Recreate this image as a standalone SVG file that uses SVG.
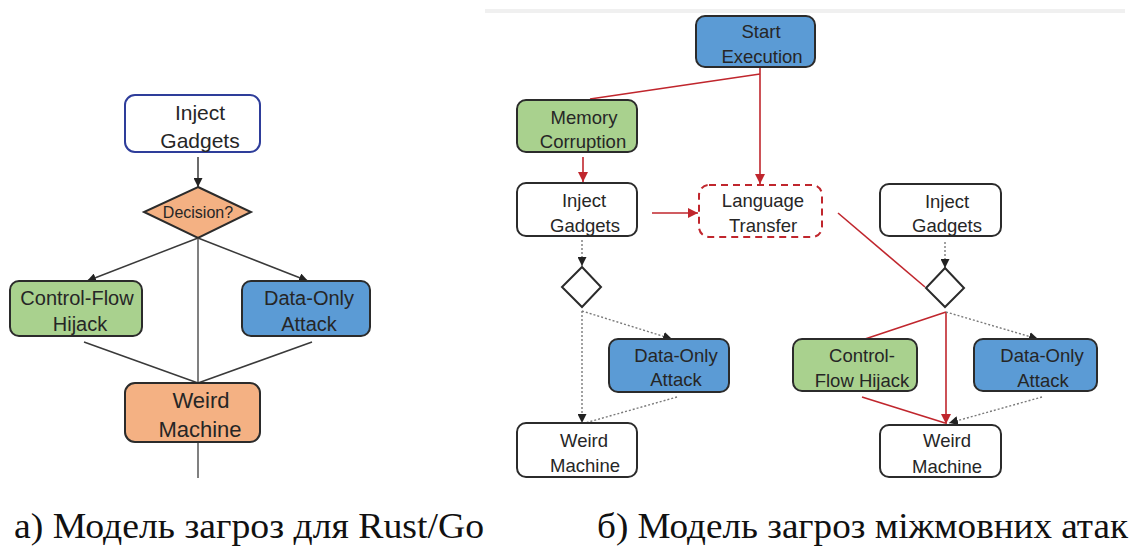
<svg xmlns="http://www.w3.org/2000/svg" width="1135" height="548" viewBox="0 0 1135 548">
  <style>
    .node rect, .node polygon { stroke: #2b2b2b; stroke-width: 2; }
    .lbl { font-family: "Liberation Sans", Arial, sans-serif; fill: #262626; text-anchor: middle; }
    .l1 { font-size: 21px; }
    .l2 { font-size: 18.5px; }
    .cap { font-family: "Liberation Serif", "Times New Roman", serif; font-size: 35px; fill: #111; }
    .green { fill: #a9d18e; }
    .blue { fill: #5b9bd5; }
    .orange { fill: #f4b183; }
    .white { fill: #ffffff; }
    .solid { stroke: #3a3a3a; stroke-width: 1.5; fill: none; }
    .grey { stroke: #808080; stroke-width: 2; fill: none; }
    .red { stroke: #c0262d; stroke-width: 1.6; fill: none; }
    .dot { stroke: #7a7a7a; stroke-width: 1.4; stroke-dasharray: 2 2; fill: none; }
  </style>
  <defs>
    <marker id="arrK" viewBox="0 0 10 10" refX="10" refY="5" markerWidth="9" markerHeight="9" markerUnits="userSpaceOnUse" orient="auto">
      <path d="M0,0 L10,5 L0,10 z" fill="#222"/>
    </marker>
    <marker id="arrR" viewBox="0 0 10 10" refX="10" refY="5" markerWidth="10" markerHeight="10" markerUnits="userSpaceOnUse" orient="auto">
      <path d="M0,0 L10,5 L0,10 z" fill="#c0262d"/>
    </marker>
  </defs>

  <rect width="1135" height="548" fill="#ffffff"/>
  <!-- faint band above the right-hand flow -->
  <rect x="485" y="9" width="640" height="4" fill="#f0f0f0"/>

  <!-- connectors -->
  <g id="connectors">
    <!-- left: Rust/Go model -->
    <line class="solid" x1="198" y1="157" x2="198" y2="187" marker-end="url(#arrK)"/>
    <line class="solid" x1="198" y1="238" x2="87" y2="281" marker-end="url(#arrK)"/>
    <line class="solid" x1="198" y1="238" x2="308" y2="281" marker-end="url(#arrK)"/>
    <line class="grey" x1="198" y1="238" x2="198" y2="383"/>
    <line class="solid" x1="84" y1="342" x2="198" y2="383"/>
    <line class="solid" x1="312" y1="342" x2="198" y2="383"/>
    <line class="grey" x1="198" y1="442" x2="198" y2="478"/>

    <!-- right: cross-language model -->
    <line class="red" x1="760" y1="74" x2="590" y2="99"/>
    <line class="red" x1="760" y1="67" x2="760" y2="184" marker-end="url(#arrR)"/>
    <line class="red" x1="583" y1="157" x2="583" y2="182" marker-end="url(#arrR)"/>
    <line class="red" x1="652" y1="213" x2="698" y2="213" marker-end="url(#arrR)"/>
    <line class="red" x1="838" y1="213" x2="925" y2="287"/>

    <line class="dot" x1="582" y1="240" x2="582" y2="266" marker-end="url(#arrK)"/>
    <line class="dot" x1="582" y1="311" x2="672" y2="339" marker-end="url(#arrK)"/>
    <line class="dot" x1="582" y1="311" x2="582" y2="423" marker-end="url(#arrK)"/>
    <line class="dot" x1="677" y1="397" x2="585" y2="423"/>

    <line class="dot" x1="945" y1="242" x2="945" y2="268" marker-end="url(#arrK)"/>
    <line class="red" x1="946" y1="312" x2="865" y2="339"/>
    <line class="red" x1="946" y1="312" x2="946" y2="424" marker-end="url(#arrR)"/>
    <line class="dot" x1="946" y1="312" x2="1038" y2="339" marker-end="url(#arrK)"/>
    <line class="red" x1="862" y1="397" x2="945" y2="423"/>
    <line class="dot" x1="1042" y1="397" x2="949" y2="423" marker-end="url(#arrK)"/>
  </g>

  <!-- left flow -->
  <g id="a-inject" class="node">
    <rect x="125" y="95" width="135" height="57" rx="10" fill="#ffffff" style="stroke:#2e3d9a"/>
    <text class="lbl l1" x="200" y="120">Inject</text>
    <text class="lbl l1" x="200" y="148">Gadgets</text>
  </g>
  <g id="a-decision" class="node">
    <polygon class="orange" points="198,187 251,212 198,238 144,212"/>
    <text class="lbl" x="198" y="218" style="font-size:16px">Decision?</text>
  </g>
  <g id="a-cfh" class="node">
    <rect class="green" x="10" y="281" width="132" height="55" rx="9"/>
    <text class="lbl" x="77" y="305" style="font-size:20px">Control-Flow</text>
    <text class="lbl" x="80" y="331" style="font-size:20px">Hijack</text>
  </g>
  <g id="a-doa" class="node">
    <rect class="blue" x="242" y="281" width="128" height="55" rx="9"/>
    <text class="lbl" x="309" y="305" style="font-size:20px">Data-Only</text>
    <text class="lbl" x="309" y="331" style="font-size:20px">Attack</text>
  </g>
  <g id="a-weird" class="node">
    <rect class="orange" x="125" y="383" width="135" height="59" rx="10"/>
    <text class="lbl" x="201" y="408" style="font-size:22px">Weird</text>
    <text class="lbl" x="200" y="437" style="font-size:22px">Machine</text>
  </g>

  <!-- right flow -->
  <g id="b-start" class="node">
    <rect class="blue" x="696" y="16" width="119" height="51" rx="9"/>
    <text class="lbl l2" x="761" y="38">Start</text>
    <text class="lbl l2" x="762" y="63">Execution</text>
  </g>
  <g id="b-memory" class="node">
    <rect class="green" x="517" y="100" width="120" height="52" rx="9"/>
    <text class="lbl l2" x="584" y="124">Memory</text>
    <text class="lbl l2" x="583" y="148">Corruption</text>
  </g>
  <g id="b-inject1" class="node">
    <rect class="white" x="517" y="183" width="120" height="53" rx="9"/>
    <text class="lbl l2" x="584" y="207">Inject</text>
    <text class="lbl l2" x="585" y="232">Gadgets</text>
  </g>
  <g id="b-transfer" class="node">
    <rect x="699" y="185" width="123" height="52" rx="10" fill="#ffffff" style="stroke:#c0262d;stroke-dasharray:7 5"/>
    <text class="lbl l2" x="763" y="207">Language</text>
    <text class="lbl l2" x="763" y="232">Transfer</text>
  </g>
  <g id="b-diamond1" class="node">
    <polygon class="white" points="582,267 601,287 582,307 562,287"/>
  </g>
  <g id="b-doa1" class="node">
    <rect class="blue" x="609" y="339" width="120" height="53" rx="9"/>
    <text class="lbl l2" x="676" y="362">Data-Only</text>
    <text class="lbl l2" x="676" y="386">Attack</text>
  </g>
  <g id="b-weird1" class="node">
    <rect class="white" x="517" y="423" width="120" height="54" rx="9"/>
    <text class="lbl l2" x="584" y="447">Weird</text>
    <text class="lbl l2" x="585" y="472">Machine</text>
  </g>
  <g id="b-inject2" class="node">
    <rect class="white" x="880" y="184" width="121" height="52" rx="9"/>
    <text class="lbl l2" x="947" y="208">Inject</text>
    <text class="lbl l2" x="947" y="232">Gadgets</text>
  </g>
  <g id="b-diamond2" class="node">
    <polygon class="white" points="945,268 964,288 945,307 926,288"/>
  </g>
  <g id="b-cfh" class="node">
    <rect class="green" x="793" y="339" width="124" height="52" rx="9"/>
    <text class="lbl l2" x="862" y="362">Control-</text>
    <text class="lbl l2" x="862" y="387">Flow Hijack</text>
  </g>
  <g id="b-doa2" class="node">
    <rect class="blue" x="974" y="339" width="123" height="52" rx="9"/>
    <text class="lbl l2" x="1042" y="362">Data-Only</text>
    <text class="lbl l2" x="1043" y="387">Attack</text>
  </g>
  <g id="b-weird2" class="node">
    <rect class="white" x="880" y="425" width="121" height="52" rx="9"/>
    <text class="lbl l2" x="947" y="447">Weird</text>
    <text class="lbl l2" x="947" y="473">Machine</text>
  </g>

  <!-- captions -->
  <text class="cap" x="14" y="538" textLength="470" lengthAdjust="spacingAndGlyphs">а) Модель загроз для Rust/Go</text>
  <text class="cap" x="597" y="538" textLength="531" lengthAdjust="spacingAndGlyphs">б) Модель загроз міжмовних атак</text>
</svg>
